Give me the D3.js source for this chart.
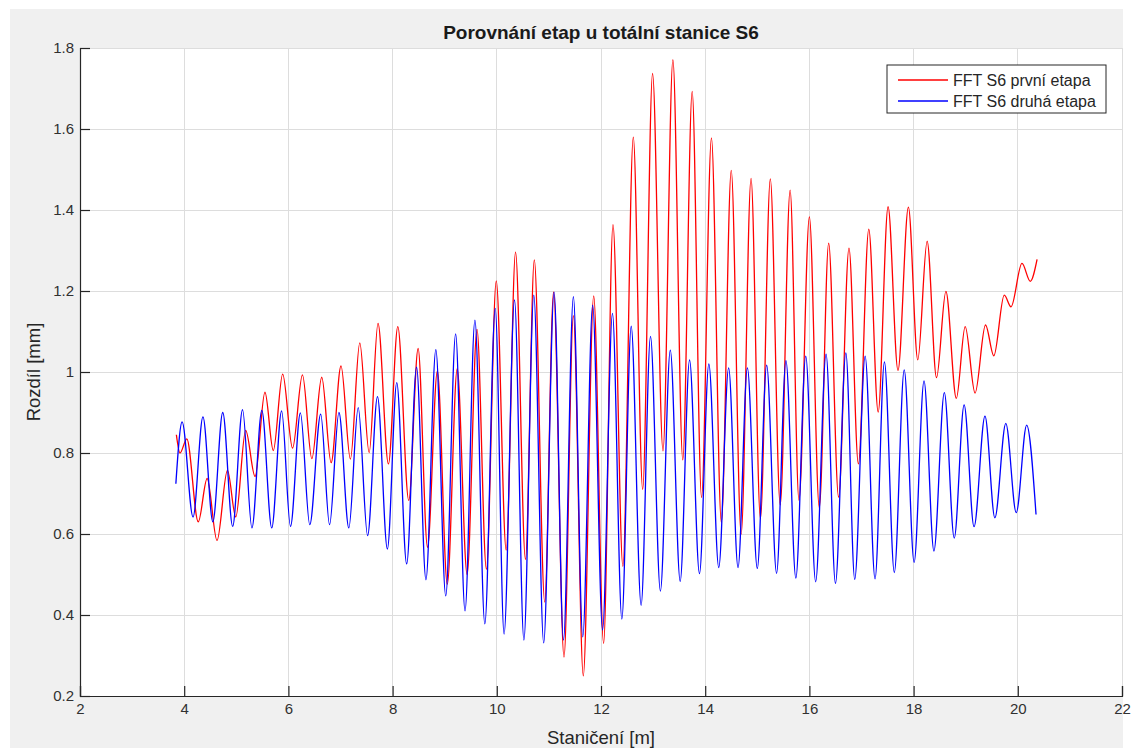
<!DOCTYPE html>
<html>
<head>
<meta charset="utf-8">
<script src="https://cdn.jsdelivr.net/npm/d3@7"></script>
<style>
  html, body { margin: 0; padding: 0; background: #ffffff; }
  svg { display: block; }
  text { font-family: "Liberation Sans", Arial, Helvetica, sans-serif; }
</style>
</head>
<body>
<svg id="chart" width="1133" height="748"></svg>
<script>
// ---- data ----
const titleText = "Porovnání etap u totální stanice S6";
const xLabelText = "Staničení [m]";
const yLabelText = "Rozdíl [mm]";
const seriesNames = ["FFT S6 první etapa", "FFT S6 druhá etapa"];
const xTicks = [2, 4, 6, 8, 10, 12, 14, 16, 18, 20, 22];
const yTicks = [0.2, 0.4, 0.6, 0.8, 1.0, 1.2, 1.4, 1.6, 1.8];
const yTickLabels = ["0.2", "0.4", "0.6", "0.8", "1", "1.2", "1.4", "1.6", "1.8"];

// first stage (red): successive extrema [station, difference]
const redSeries = [
  [3.85,0.845],[3.92,0.800],[4.05,0.835],[4.27,0.630],[4.44,0.737],[4.63,0.584],[4.83,0.757],[4.99,0.642],
  [5.18,0.856],[5.36,0.742],[5.55,0.950],[5.71,0.806],[5.89,0.995],[6.08,0.812],[6.27,0.993],[6.45,0.786],
  [6.64,0.987],[6.82,0.776],[7.01,1.015],[7.19,0.785],[7.37,1.072],[7.55,0.801],[7.72,1.120],[7.92,0.773],
  [8.10,1.112],[8.31,0.683],[8.49,1.058],[8.67,0.567],[8.86,1.003],[9.05,0.476],[9.24,1.008],[9.43,0.500],
  [9.62,1.105],[9.80,0.513],[9.99,1.225],[10.18,0.560],[10.36,1.296],[10.55,0.537],[10.72,1.277],[10.92,0.432],
  [11.09,1.198],[11.29,0.296],[11.47,1.139],[11.66,0.250],[11.86,1.188],[12.05,0.330],[12.23,1.364],[12.42,0.520],
  [12.62,1.580],[12.80,0.710],[12.99,1.737],[13.19,0.805],[13.38,1.771],[13.57,0.783],[13.75,1.693],[13.93,0.690],
  [14.12,1.578],[14.31,0.628],[14.50,1.498],[14.69,0.600],[14.88,1.478],[15.06,0.638],[15.25,1.477],[15.44,0.672],
  [15.63,1.449],[15.80,0.683],[16.00,1.383],[16.19,0.665],[16.37,1.318],[16.56,0.691],[16.76,1.306],[16.94,0.773],
  [17.14,1.353],[17.32,0.901],[17.51,1.408],[17.70,1.004],[17.90,1.407],[18.08,1.030],[18.26,1.323],[18.44,0.986],
  [18.62,1.199],[18.82,0.935],[18.99,1.112],[19.18,0.948],[19.38,1.116],[19.54,1.040],[19.74,1.190],[19.87,1.161],
  [20.08,1.268],[20.24,1.224],[20.37,1.278]
];

// second stage (blue): successive extrema [station, difference]
const blueSeries = [
  [3.84,0.724],[3.96,0.877],[4.17,0.642],[4.36,0.889],[4.55,0.630],[4.74,0.900],[4.93,0.619],[5.12,0.907],
  [5.30,0.615],[5.49,0.905],[5.68,0.615],[5.87,0.904],[6.04,0.619],[6.23,0.899],[6.41,0.623],[6.62,0.896],
  [6.79,0.623],[6.97,0.900],[7.16,0.615],[7.34,0.912],[7.52,0.596],[7.71,0.939],[7.90,0.563],[8.08,0.974],
  [8.27,0.526],[8.46,1.012],[8.64,0.487],[8.83,1.055],[9.02,0.447],[9.21,1.094],[9.39,0.410],[9.58,1.128],
  [9.77,0.378],[9.97,1.157],[10.14,0.353],[10.34,1.178],[10.52,0.338],[10.71,1.190],[10.90,0.331],[11.10,1.197],
  [11.28,0.338],[11.47,1.186],[11.65,0.346],[11.84,1.165],[12.03,0.363],[12.22,1.145],[12.40,0.390],[12.58,1.113],
  [12.77,0.424],[12.95,1.088],[13.14,0.459],[13.33,1.054],[13.52,0.483],[13.70,1.030],[13.89,0.502],[14.07,1.020],
  [14.26,0.517],[14.45,1.010],[14.63,0.517],[14.81,1.010],[15.00,0.515],[15.18,1.017],[15.37,0.503],[15.55,1.028],
  [15.74,0.491],[15.93,1.039],[16.12,0.482],[16.32,1.044],[16.50,0.478],[16.70,1.047],[16.87,0.488],[17.07,1.039],
  [17.26,0.489],[17.44,1.025],[17.63,0.505],[17.82,1.005],[18.01,0.530],[18.20,0.978],[18.39,0.558],[18.59,0.949],
  [18.78,0.590],[18.97,0.919],[19.16,0.618],[19.37,0.891],[19.56,0.640],[19.77,0.873],[19.97,0.653],[20.17,0.869],
  [20.35,0.648]
];
const seriesColors = ["#ff0000", "#0000ff"];

// ---- layout ----
const W = 1133, H = 748;
const plot = { left: 80, right: 1122, top: 48, bottom: 696 };
const svg = d3.select("#chart");

// figure background
svg.append("rect").attr("x", 0).attr("y", 0).attr("width", W).attr("height", H).attr("fill", "#ffffff");
svg.append("rect").attr("x", 10).attr("y", 9).attr("width", 1113).attr("height", H - 9).attr("fill", "#f0f0f0");
// axes background
svg.append("rect").attr("x", plot.left).attr("y", plot.top)
  .attr("width", plot.right - plot.left).attr("height", plot.bottom - plot.top).attr("fill", "#ffffff");

const x = d3.scaleLinear().domain([2, 22]).range([plot.left, plot.right]);
const y = d3.scaleLinear().domain([0.2, 1.8]).range([plot.bottom, plot.top]);

// grid
const grid = svg.append("g");
grid.selectAll("line.gx").data(xTicks).enter().append("line")
  .attr("x1", d => x(d)).attr("x2", d => x(d))
  .attr("y1", plot.top).attr("y2", plot.bottom)
  .attr("stroke", "#dddddd").attr("stroke-width", 1).attr("shape-rendering", "crispEdges");
grid.selectAll("line.gy").data(yTicks).enter().append("line")
  .attr("x1", plot.left).attr("x2", plot.right)
  .attr("y1", d => y(d)).attr("y2", d => y(d))
  .attr("stroke", "#dddddd").attr("stroke-width", 1).attr("shape-rendering", "crispEdges");

// curves
const line = d3.line().x(d => x(d[0])).y(d => y(d[1])).curve(d3.curveMonotoneX);
svg.append("clipPath").attr("id", "clip").append("rect")
  .attr("x", plot.left).attr("y", plot.top).attr("width", plot.right - plot.left).attr("height", plot.bottom - plot.top);
const curves = svg.append("g").attr("clip-path", "url(#clip)");
curves.append("path").datum(redSeries).attr("d", line)
  .attr("fill", "none").attr("stroke", seriesColors[0]).attr("stroke-width", 1.3).attr("stroke-linejoin", "round");
curves.append("path").datum(blueSeries).attr("d", line)
  .attr("fill", "none").attr("stroke", seriesColors[1]).attr("stroke-width", 1.3).attr("stroke-linejoin", "round");

// axes
const axisColor = "#262626";
const xAxis = d3.axisBottom(x).tickValues(xTicks).tickSize(-10).tickPadding(7).tickFormat(d3.format("d"));
const yAxis = d3.axisLeft(y).tickValues(yTicks).tickSize(-10).tickPadding(6)
  .tickFormat((d, i) => yTickLabels[i]);

const gx = svg.append("g").attr("transform", `translate(0,${plot.bottom})`).call(xAxis);
const gy = svg.append("g").attr("transform", `translate(${plot.left},0)`).call(yAxis);
[gx, gy].forEach(g => {
  g.select(".domain").attr("stroke", axisColor).attr("stroke-width", 1.2);
  g.selectAll(".tick line").attr("stroke", axisColor).attr("stroke-width", 1.2);
  g.selectAll(".tick text").attr("fill", "#303030").style("font-size", "15px")
    .style("font-family", "'Liberation Sans', Arial, sans-serif");
});

// title and labels
svg.append("text").attr("x", (plot.left + plot.right) / 2).attr("y", 32)
  .attr("text-anchor", "middle").attr("dominant-baseline", "central")
  .style("font-size", "19px").style("font-weight", "bold").attr("fill", "#1a1a1a").text(titleText);
svg.append("text").attr("x", (plot.left + plot.right) / 2).attr("y", 737)
  .attr("text-anchor", "middle").attr("dominant-baseline", "central")
  .style("font-size", "18.5px").attr("fill", "#262626").text(xLabelText);
svg.append("text").attr("transform", `translate(33,${(plot.top + plot.bottom) / 2}) rotate(-90)`)
  .attr("text-anchor", "middle").attr("dominant-baseline", "central")
  .style("font-size", "18.5px").attr("fill", "#262626").text(yLabelText);

// legend
const leg = svg.append("g");
leg.append("rect").attr("x", 887).attr("y", 65).attr("width", 219).attr("height", 48)
  .attr("fill", "#ffffff").attr("stroke", "#262626").attr("stroke-width", 1);
seriesNames.forEach((name, i) => {
  const ly = 80 + i * 21;
  leg.append("line").attr("x1", 898).attr("x2", 948).attr("y1", ly).attr("y2", ly)
    .attr("stroke", seriesColors[i]).attr("stroke-width", 1.3);
  leg.append("text").attr("x", 953).attr("y", ly).attr("dominant-baseline", "central")
    .style("font-size", "16px").attr("fill", "#262626").text(name);
});
</script>
</body>
</html>
